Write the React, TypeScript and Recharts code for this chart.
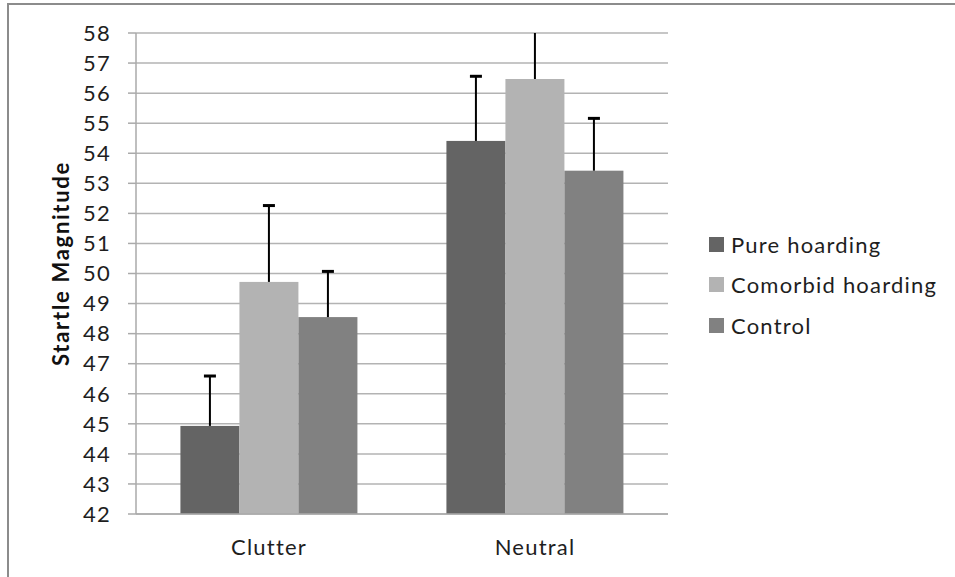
import { BarChart, Bar, XAxis, YAxis, CartesianGrid, Label } from "recharts";

const categories = ["Clutter", "Neutral"];
const pureHoarding = [44.93, 54.41];
const comorbidHoarding = [49.72, 56.47];
const control = [48.55, 53.42];
const pureErr = [1.66, 2.15];
const comorbidErr = [2.54, 2.4];
const controlErr = [1.52, 1.74];
const yTicks = [42, 43, 44, 45, 46, 47, 48, 49, 50, 51, 52, 53, 54, 55, 56, 57, 58];

const Y_MIN = 42;
const Y_MAX = 58;
const FONT = "Lato, 'Open Sans', sans-serif";
const tickStyle = { fontFamily: FONT, fontSize: 22, fill: "#1e1e1e", letterSpacing: 1.2 };

const data = categories.map((name, i) => ({
  name,
  idx: i + 0.5,
  pure: pureHoarding[i],
  comorbid: comorbidHoarding[i],
  control: control[i],
  pureErr: pureErr[i],
  comorbidErr: comorbidErr[i],
  controlErr: controlErr[i],
}));

const series = [
  { key: "pure", err: "pureErr", name: "Pure hoarding", color: "#646464" },
  { key: "comorbid", err: "comorbidErr", name: "Comorbid hoarding", color: "#b3b3b3" },
  { key: "control", err: "controlErr", name: "Control", color: "#818181" },
];

// bar plus a one-sided (upper) error bar, scaled from the bar's own geometry
const barWithError = (valueKey: string, errKey: string) => (props: any) => {
  const { x, y, width, height, fill, payload } = props;
  const v = payload[valueKey];
  const ppu = height / (v - Y_MIN);
  const topY = y - (Y_MAX - v) * ppu;
  const rawY = y - payload[errKey] * ppu;
  const errY = Math.max(rawY, topY);
  const cx = x + width / 2;
  return (
    <g>
      <rect x={x} y={y} width={width} height={height} fill={fill} />
      <line x1={cx} y1={y} x2={cx} y2={errY} stroke="#000" strokeWidth={2} />
      {rawY >= topY && <line x1={cx - 6} y1={errY} x2={cx + 6} y2={errY} stroke="#000" strokeWidth={3} />}
    </g>
  );
};

const ChartLegend = () => (
  <div
    style={{
      position: "absolute",
      left: 709,
      top: 224,
      fontFamily: FONT,
      fontSize: 22,
      letterSpacing: 1.2,
      color: "#1e1e1e",
      whiteSpace: "nowrap",
    }}
  >
    {series.map((s) => (
      <div key={s.key} style={{ display: "flex", alignItems: "center", height: 40.5 }}>
        <div style={{ width: 15, height: 15, background: s.color, marginRight: 7 }} />
        <span>{s.name}</span>
      </div>
    ))}
  </div>
);

export default function App() {
  return (
    <div style={{ position: "fixed", left: 0, top: 0, width: 955, height: 577, overflow: "hidden", background: "#fff" }}>
      <BarChart
        width={955}
        height={577}
        data={data}
        margin={{ top: 33, right: 287, bottom: 0, left: 0 }}
        barCategoryGap="16.7%"
        barGap={0}
      >
        <CartesianGrid horizontal vertical={false} stroke="#b3b3b3" strokeWidth={1.5} />
        <XAxis
          xAxisId="cat"
          dataKey="name"
          axisLine={{ stroke: "#aaa", strokeWidth: 1.5 }}
          tickLine={false}
          tickMargin={19}
          tick={tickStyle}
          height={63}
        />
        <XAxis
          xAxisId="edges"
          type="number"
          dataKey="idx"
          domain={[0, 2]}
          ticks={[0, 1, 2]}
          tick={false}
          axisLine={false}
          tickLine={{ stroke: "#aaa", strokeWidth: 1.5 }}
          tickSize={9}
          height={0}
        />
        <YAxis
          type="number"
          domain={[Y_MIN, Y_MAX]}
          ticks={yTicks}
          interval={0}
          allowDataOverflow
          width={136}
          tickSize={8}
          tickMargin={17}
          axisLine={{ stroke: "#aaa", strokeWidth: 1.5 }}
          tickLine={{ stroke: "#aaa", strokeWidth: 1.5 }}
          tick={tickStyle}
        >
          <Label
            content={({ viewBox }: any) => {
              const lx = viewBox.x + 60;
              const ly = viewBox.y + viewBox.height / 2 - 10;
              return (
                <text
                  x={lx}
                  y={ly}
                  transform={`rotate(-90 ${lx} ${ly})`}
                  textAnchor="middle"
                  dominantBaseline="central"
                  fontFamily={FONT}
                  fontWeight="bold"
                  fontSize={22}
                  letterSpacing={1.7}
                  fill="#111"
                >
                  Startle Magnitude
                </text>
              );
            }}
          />
        </YAxis>
        {series.map((s) => (
          <Bar
            key={s.key}
            xAxisId="cat"
            dataKey={s.key}
            name={s.name}
            fill={s.color}
            isAnimationActive={false}
            shape={barWithError(s.key, s.err)}
          />
        ))}
      </BarChart>
      <ChartLegend />
      <div style={{ position: "absolute", left: 7, top: 3, width: 960, height: 2, background: "#8c8c8c" }} />
      <div style={{ position: "absolute", left: 7, top: 3, width: 2, height: 600, background: "#8c8c8c" }} />
    </div>
  );
}
